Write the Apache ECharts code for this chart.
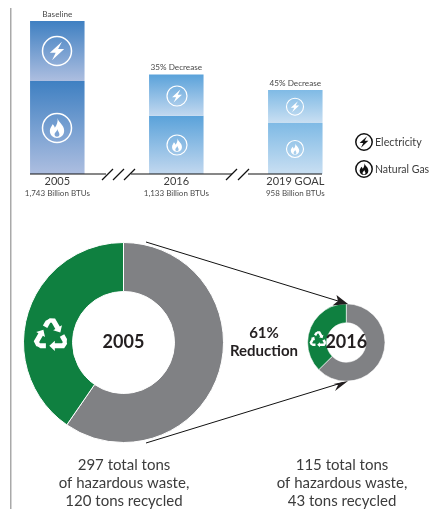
<!DOCTYPE html>
<html><head><meta charset="utf-8">
<style>html,body{margin:0;padding:0;background:#fff}#c{width:430px;height:509px}</style>
<script src="https://cdn.jsdelivr.net/npm/echarts@6/dist/echarts.min.js"></script></head>
<body><div id="c"></div>
<script>
const years = ['2005','2016','2019 GOAL'];
const btuLabels = ['1,743 Billion BTUs','1,133 Billion BTUs','958 Billion BTUs'];
const topLabels = ['Baseline','35% Decrease','45% Decrease'];
const naturalGas = [1059,664,581];
const electricity = [684,469,377];
const wasteYears = ['2005','2016'];
const recycled = [120,43];
const totalTons = [297,115];
const other = [177,72];
const FONT = 'Lato';
const barTops = ['#3f80c2','#5aa2da','#7fbae5'];
const barBottoms = ['#adbee0','#c2d8ef','#c9dff2'];
const grad = i => new echarts.graphic.LinearGradient(0,0,0,1,[{offset:0,color:barTops[i]},{offset:1,color:barBottoms[i]}]);
const BOLT = 'M14.5 1.5L3.5 11.5L8.8 11.5L5.5 18.5L16.5 8.2L11 8.2Z';
const FLAME = 'M10.5 1C11 5 16.5 7 16.5 12.5C16.5 16.5 13.5 19 10 19C6.5 19 3.5 16.5 3.5 12.5C3.5 10 5.3 8.5 6 6.5C7.2 7.5 7.8 8.5 8 9.8C9.8 7.5 11 4.5 10.5 1ZM10.2 11C10.4 13 7.8 14 7.8 16C7.8 17.3 9 18 10 18C11 18 12.2 17.3 12.2 16C12.2 14 10.6 13 10.2 11Z';
echarts.graphic.registerShape('boltIcon',echarts.graphic.extendPath(BOLT,{}));
echarts.graphic.registerShape('flameIcon',echarts.graphic.extendPath(FLAME,{}));

function icon(cx,cy,r,kind,color,lw,f){
  const k=r*f/10;
  return [
    {type:'circle',shape:{cx,cy,r},style:{fill:null,stroke:color,lineWidth:lw},silent:true,z:10},
    {type:kind,x:cx-10*k,y:cy-10*k,scaleX:k,scaleY:k,style:{fill:color},silent:true,z:10}
  ];
}
function recycle(cx,cy,s){
  const children=[0,1,2].map(k=>({type:'group',rotation:k*2*Math.PI/3,children:[
    {type:'polygon',z:10,shape:{points:[[-2,11.5],[4.5,5.5],[4.5,8.5],[13,8.5],[16.5,3.5],[19,9],[15.5,14.5],[4.5,14.5],[4.5,17.5]]},style:{fill:'#fff'}},
    {type:'polygon',z:10,shape:{points:[[-15,8.5],[-6,8.5],[-6,14.5],[-12.5,14.5],[-16,12]]},style:{fill:'#fff'}}
  ]}));
  return {type:'group',x:cx,y:cy,scaleX:s,scaleY:s,children,silent:true};
}
const line=(x1,y1,x2,y2,lw=1.2,c='#111')=>({type:'line',shape:{x1,y1,x2,y2},style:{stroke:c,lineWidth:lw},silent:true,z:5});
const txt=(x,y,text,size,weight,fill,align='center')=>({type:'text',x,y,style:{text,font:`${weight} ${size}px ${FONT}`,fill,align,verticalAlign:'middle'},silent:true,z:6});

const graphic=[
  {type:'rect',shape:{x:10,y:8,width:1.5,height:501},style:{fill:'#a9a9a9'},silent:true},
  line(30,174,106,174),line(131,174,232,174),line(248,174,322,174),
  line(102,180,113,169),line(113,180,124,169),line(124,180,135,169),
  line(226,180,237,169),line(238,180,249,169),
  ...icon(57,51,14.5,'boltIcon','#fff',1.5,0.76),
  ...icon(57,128,14.5,'flameIcon','#fff',1.5,0.76),
  ...icon(177,96,10,'boltIcon','#fff',1.2,0.76),
  ...icon(177,145,10,'flameIcon','#fff',1.2,0.76),
  ...icon(295,106.7,8.5,'boltIcon','#fff',1.1,0.76),
  ...icon(295,149,8.5,'flameIcon','#fff',1.1,0.76),
  ...icon(364,142,8.2,'boltIcon','#111',1.5,0.82),
  ...icon(364,169,8.2,'flameIcon','#111',1.5,0.82),
  txt(375,142.5,'Electricity',10.7,'normal','#3c3c3c','left'),
  txt(375,169.5,'Natural Gas',10.5,'normal','#3c3c3c','left'),
  line(146,242,343,302.5,1),
  line(146,443,343,382.5,1),
  {type:'polygon',shape:{points:[[348,304],[336.5,295],[338,301],[332.5,305.5]]},style:{fill:'#231f20'},silent:true,z:6},
  {type:'polygon',shape:{points:[[348,381],[333.5,384],[338,385],[335,391]]},style:{fill:'#231f20'},silent:true,z:6},
  recycle(51,336,0.85),
  recycle(318,340,0.42),
  txt(264,333,'61%',15,'bold','#231f20'),
  txt(264,351,'Reduction',15,'bold','#231f20'),
];
[0,1].forEach(i=>{
  const cx=[124,342][i];
  [`${totalTons[i]} total tons`,'of hazardous waste,',`${recycled[i]} tons recycled`].forEach((t,k)=>graphic.push(txt(cx,465+18*k,t,15,'normal','#3c3c3c')));
});

function donut(i,center,radius,lw){
  return {type:'pie',center,radius,startAngle:90,clockwise:true,silent:true,animation:false,
    itemStyle:{borderColor:'#fff',borderWidth:lw},label:{show:false},labelLine:{show:false},
    data:[
      {name:'Other',value:other[i],itemStyle:{color:'#808184'},
       label:{show:true,position:'center',formatter:wasteYears[i],fontFamily:FONT,fontWeight:'bold',fontSize:18,color:'#231f20'}},
      {name:'Recycled',value:recycled[i],itemStyle:{color:'#0f8040'}}
    ]};
}
const chart=echarts.init(document.getElementById('c'),null,{renderer:'canvas'});
chart.setOption({
  animation:false,backgroundColor:'#fff',
  grid:{left:-2.2,top:21,width:357,height:153,containLabel:false,outerBoundsMode:'none'},
  xAxis:{type:'category',data:years,axisLine:{show:false},axisTick:{show:false},
    axisLabel:{interval:0,margin:1,formatter:(v,i)=>`{a|${v}}\n{b|${btuLabels[i]}}`,
      rich:{a:{fontFamily:FONT,fontSize:11,color:'#3c3c3c',lineHeight:12},b:{fontFamily:FONT,fontSize:8,color:'#4a4a4a',lineHeight:13}}}},
  yAxis:{type:'value',min:0,max:1743,show:false,splitLine:{show:false}},
  graphic,
  series:[
    {type:'bar',stack:'e',barWidth:54.5,silent:true,data:naturalGas.map((v,i)=>({value:v,itemStyle:{color:grad(i)}}))},
    {type:'bar',stack:'e',barWidth:54.5,silent:true,data:electricity.map((v,i)=>({value:v,itemStyle:{color:grad(i)}})),
      label:{show:true,position:'top',distance:3,formatter:p=>topLabels[p.dataIndex],fontFamily:FONT,fontSize:8.2,color:'#4a4a4a'}},
    donut(0,[123.5,342.5],[51,100],1),
    donut(1,[346.3,342.5],[19.7,38.7],0.6)
  ]
});
</script></body></html>
